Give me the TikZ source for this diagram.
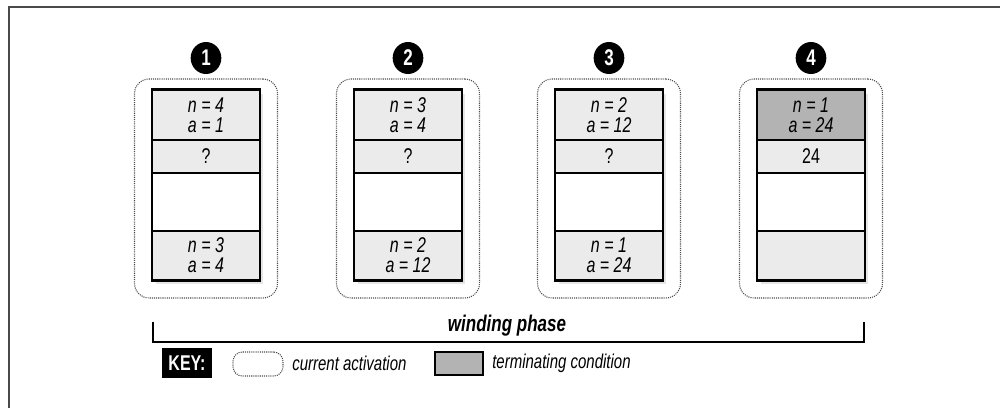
\documentclass[tikz,border=0pt]{standalone}
\usepackage{fontspec}
\setmainfont[FakeStretch=0.75]{Liberation Sans}
\definecolor{cellgray}{HTML}{EBEBEB}
\definecolor{termgray}{HTML}{B3B3B3}
\definecolor{framegray}{HTML}{4A4A4A}
\tikzset{
  cell/.style={draw, line width=1.1pt, minimum width=80.25pt, inner sep=0pt, align=center, font=\fontsize{16}{15}\selectfont},
  activation/.style={draw=black!70, line width=0.8pt, dash pattern={on 0.8pt off 0.8pt}, rounded corners=11pt},
  stepnum/.style={ellipse, fill=black, text=white, inner sep=0pt, minimum width=23pt, minimum height=24pt, font=\fontsize{17}{17}\selectfont\bfseries},
}
\usetikzlibrary{shapes.geometric}
\begin{document}
\begin{tikzpicture}[x=0.75pt,y=0.75pt,yscale=-1,xscale=1]
\useasboundingbox (0,0) rectangle (1000,408);

% frame
\draw [framegray, line width=1.5pt] (9,408) -- (9,7) -- (1000,7);

% stacks
\foreach \i/\x/\ta/\tb/\tc/\cola in {
  1/206/{\textit{n = 4}\\\textit{a = 1}}/?/{\textit{n = 3}\\\textit{a = 4}}/cellgray,
  2/408/{\textit{n = 3}\\\textit{a = 4}}/?/{\textit{n = 2}\\\textit{a = 12}}/cellgray,
  3/609/{\textit{n = 2}\\\textit{a = 12}}/?/{\textit{n = 1}\\\textit{a = 24}}/cellgray,
  4/811/{\textit{n = 1}\\\textit{a = 24}}/24/{}/termgray}
{
  \node [activation, minimum width=107.25pt, minimum height=164.25pt] (act\i) at (\x,188.5) {};
  \node [stepnum] (num\i) at (\x,58) {\i};
  \fill [black!10] ({\x-50},94) rectangle ({\x+57},284);
  \node [cell, fill=\cola, minimum height=37.5pt] (top\i) at (\x,115) {\ta};
  \node [cell, fill=cellgray, minimum height=24.75pt] (ret\i) at (\x,156.5) {\tb};
  \node [cell, fill=white, minimum height=43.5pt] (mid\i) at (\x,202) {};
  \node [cell, fill=cellgray, minimum height=36.75pt] (bot\i) at (\x,255.5) {\tc};
  \draw [line width=1.8pt] (top\i.north west) rectangle (bot\i.south east);
}

% winding phase bracket
\coordinate (wleft) at (153,322);
\coordinate (wright) at (864,322);
\draw [line width=1.5pt] (wleft) -- (153,342) -- (864,342) -- (wright);
\node [font=\fontsize{17}{17}\selectfont\bfseries\itshape] (winding) at (507,326) {winding phase};

% key
\node [fill=black, text=white, inner sep=0pt, minimum width=37.5pt, minimum height=22.5pt, font=\fontsize{16}{16}\selectfont\bfseries] (key) at (187,363) {KEY:};
\node [activation, rounded corners=7pt, minimum width=37.5pt, minimum height=18pt] (keyact) at (258,364) {};
\node [anchor=west, inner sep=0.75pt, font=\fontsize{15}{15}\selectfont\itshape] (keyacttxt) at (291,363) {current activation};
\node [draw, line width=1.5pt, fill=termgray, minimum width=36pt, minimum height=17pt, inner sep=0pt] (keyterm) at (459,363.5) {};
\node [anchor=west, inner sep=0.75pt, font=\fontsize{15}{15}\selectfont\itshape] (keytermtxt) at (491,363) {terminating condition};
\end{tikzpicture}
\end{document}
